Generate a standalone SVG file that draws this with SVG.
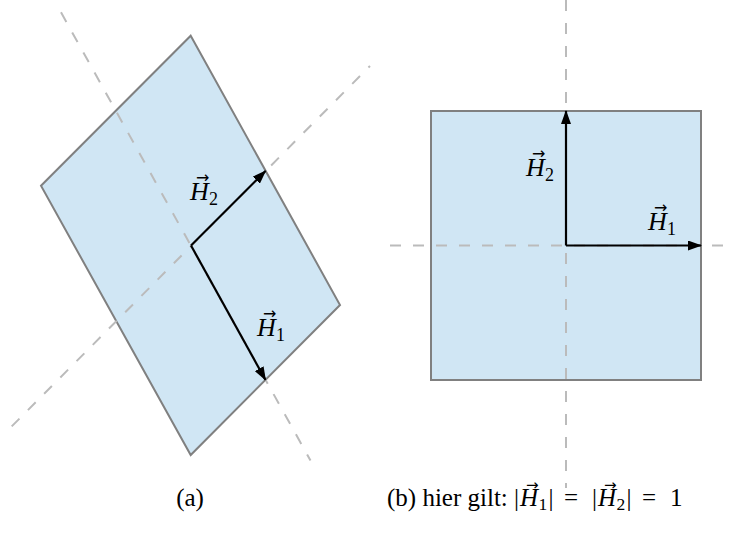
<svg xmlns="http://www.w3.org/2000/svg" width="731" height="535" viewBox="0 0 731 535">
  <style>
    .plane { fill: #d0e6f4; stroke: #808080; stroke-width: 2; }
    .axis { fill: none; stroke: #bbbbbb; stroke-width: 2; stroke-dasharray: 11 12; }
    .vec { fill: none; stroke: #000; stroke-width: 2.2; marker-end: url(#ah); }
    .lbl { font-family: "Liberation Serif", "Times New Roman", serif; font-size: 26px; fill: #000; }
    .it { font-style: italic; }
    .sub { font-size: 18px; }
    .acc { font-family: "DejaVu Sans", sans-serif; font-size: 16px; font-style: normal; }
    .cap { font-family: "Liberation Serif", "Times New Roman", serif; font-size: 25px; fill: #000; }
    .cap .sub { font-size: 17.5px; }
    .cap .acc { font-size: 15px; }
  </style>
  <defs>
    <marker id="ah" markerUnits="userSpaceOnUse" markerWidth="15" markerHeight="10" refX="13" refY="5" orient="auto">
      <path d="M0,0 L14,5 L0,10 z" fill="#000"/>
    </marker>
  </defs>

  <g id="plane-a">
    <polygon class="plane" points="190.7,35.7 340,305 190.7,455 41,185.7"/>
  </g>
  <g id="plane-b">
    <rect class="plane" x="431" y="111" width="270" height="269"/>
  </g>

  <g id="axes">
    <line class="axis" x1="11.7" y1="426.4" x2="370" y2="66"/>
    <line class="axis" x1="61" y1="12.3" x2="310.5" y2="460.5"/>
    <line class="axis" x1="566" y1="0" x2="566" y2="488"/>
    <line class="axis" x1="390" y1="245.5" x2="731" y2="245.5"/>
  </g>

  <g id="connectors">
    <line class="vec" x1="191" y1="245.5" x2="265.5" y2="171"/>
    <line class="vec" x1="191" y1="245.5" x2="265.5" y2="380"/>
    <line class="vec" x1="566" y1="245.5" x2="566" y2="111"/>
    <line class="vec" x1="566" y1="245.5" x2="701" y2="245.5"/>
  </g>

  <g id="label-a-H2">
    <text class="lbl"><tspan class="it" x="190" y="200">H</tspan><tspan class="acc" x="196" y="183">→</tspan><tspan class="sub" x="209" y="205">2</tspan></text>
  </g>
  <g id="label-a-H1">
    <text class="lbl"><tspan class="it" x="257" y="336">H</tspan><tspan class="acc" x="263" y="319">→</tspan><tspan class="sub" x="276" y="341">1</tspan></text>
  </g>
  <g id="label-b-H2">
    <text class="lbl"><tspan class="it" x="526" y="176">H</tspan><tspan class="acc" x="532" y="159">→</tspan><tspan class="sub" x="545" y="181">2</tspan></text>
  </g>
  <g id="label-b-H1">
    <text class="lbl"><tspan class="it" x="648" y="230">H</tspan><tspan class="acc" x="654" y="213">→</tspan><tspan class="sub" x="667" y="235">1</tspan></text>
  </g>

  <g id="caption-a">
    <text class="cap" x="190" y="506" text-anchor="middle">(a)</text>
  </g>
  <g id="caption-b">
    <text class="cap" xml:space="preserve"><tspan x="387" y="506">(b) hier gilt: |</tspan><tspan class="it" x="520" y="506">H</tspan><tspan class="acc" x="526" y="490">→</tspan><tspan class="sub" x="538.5" y="510">1</tspan><tspan x="548.5" y="506">|</tspan><tspan x="564" y="506">=</tspan><tspan x="592" y="506">|</tspan><tspan class="it" x="598" y="506">H</tspan><tspan class="acc" x="604" y="490">→</tspan><tspan class="sub" x="616.5" y="510">2</tspan><tspan x="626.5" y="506">|</tspan><tspan x="642" y="506">=</tspan><tspan x="670" y="506">1</tspan></text>
  </g>
</svg>
